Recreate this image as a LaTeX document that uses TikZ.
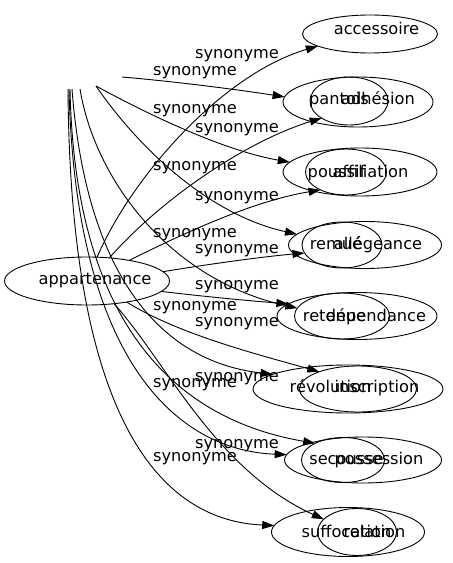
\documentclass[tikz,border=0pt]{standalone}
\usepackage{fontspec}
\setmainfont{DejaVu Sans}
\usetikzlibrary{shapes.geometric,arrows.meta}
\begin{document}
\begin{tikzpicture}[x=1bp,y=-1bp,
  every node/.style={inner sep=0pt,outer sep=0pt},
  ell/.style={draw,ellipse,line width=0.9bp},
  word/.style={anchor=base,font=\fontsize{16.2bp}{19bp}\selectfont,text=black},
  lab/.style={anchor=base,font=\fontsize{16.2bp}{19bp}\selectfont,text=black},
  edge/.style={line width=0.9bp,-{Triangle[length=12bp,width=8bp]}}]
\useasboundingbox (0,0) rectangle (453,563);
% ellipses
\node[ell,minimum width=165bp,minimum height=48bp] (app) at (87,281) {};
\node[ell,minimum width=135bp,minimum height=38bp] (acc) at (370,34) {};
\node[ell,minimum width=150bp,minimum height=50bp] (e2o) at (358,102) {};
\node[ell,minimum width=78bp,minimum height=48bp] (e2i) at (349,101) {};
\node[ell,minimum width=154bp,minimum height=48bp] (e3o) at (360,172) {};
\node[ell,minimum width=81bp,minimum height=46bp] (e3i) at (346,172) {};
\node[ell,minimum width=153bp,minimum height=47bp] (e4o) at (365,245) {};
\node[ell,minimum width=80bp,minimum height=46bp] (e4i) at (342,245) {};
\node[ell,minimum width=160bp,minimum height=47bp] (e5o) at (357,316) {};
\node[ell,minimum width=95bp,minimum height=46bp] (e5i) at (342,316) {};
\node[ell,minimum width=190bp,minimum height=48bp] (e6o) at (348,389) {};
\node[ell,minimum width=117bp,minimum height=46bp] (e6i) at (358,389) {};
\node[ell,minimum width=157bp,minimum height=46bp] (e7o) at (363,460) {};
\node[ell,minimum width=83bp,minimum height=45bp] (e7i) at (343,460) {};
\node[ell,minimum width=153bp,minimum height=49bp] (e8o) at (348,532) {};
\node[ell,minimum width=79bp,minimum height=47bp] (e8i) at (357,532) {};
% words
\node[word] (tapp) at (95,284) {appartenance};
\node[word] (tacc) at (376.5,35) {accessoire};
\node[word] (t2a) at (339,105) {pantois};
\node[word] (t2b) at (378,105) {adhésion};
\node[word] (t3a) at (336.5,177) {poussif};
\node[word] (t3b) at (370.5,177) {affiliation};
\node[word] (t4a) at (336,249) {remué};
\node[word] (t4b) at (378,249) {allégeance};
\node[word] (t5a) at (334.5,321) {retenue};
\node[word] (t5b) at (376,321) {dépendance};
\node[word] (t6a) at (330.5,392) {révolution};
\node[word] (t6b) at (377,392) {inscription};
\node[word] (t7a) at (346.5,464) {secousse};
\node[word] (t7b) at (379,464) {possession};
\node[word] (t8a) at (346.5,537) {suffocation};
\node[word] (t8b) at (374.5,537) {relation};
% free starts
\coordinate (s1) at (122,77);
\coordinate (s2) at (96,86);
\coordinate (s3) at (80,89);
\coordinate (s4) at (72,89);
\coordinate (s5) at (70,89);
\coordinate (s6) at (69,89);
\coordinate (s7) at (68,89);
% edges
\draw[edge] (app.67) .. controls (130,180) and (220,75) .. (acc.193);
\draw[edge] (s1) .. controls (180,82) and (240,90) .. (e2o.176);
\draw[edge] (app.46) .. controls (165,195) and (250,140) .. (e2i.212);
\draw[edge] (s2) .. controls (140,110) and (220,150) .. (e3o.172);
\draw[edge] (app.26) .. controls (200,225) and (260,200) .. (e3i.215);
\draw[edge] (s2) .. controls (140,150) and (210,215) .. (e4o.171);
\draw[edge] (app.7) .. controls (210,264) and (260,257) .. (e4i.192);
\draw[edge] (app.-8) .. controls (200,296) and (240,300) .. (e5o.170);
\draw[edge] (s3) .. controls (95,180) and (170,280) .. (e5i.170);
\draw[edge] (s4) .. controls (85,260) and (150,360) .. (e6o.169);
\draw[edge] (app.-28) .. controls (180,335) and (260,355) .. (e6i.156);
\draw[edge] (s6) .. controls (75,350) and (170,450) .. (e7o.176);
\draw[edge] (s5) .. controls (75,330) and (180,420) .. (e7i.149);
\draw[edge] (s7) .. controls (70,400) and (150,520) .. (e8o.175);
\draw[edge] (app.-40) .. controls (165,360) and (215,470) .. (e8i.159);
% labels
\node[lab] (l1) at (237,59) {synonyme};
\node[lab] (l2) at (195,76) {synonyme};
\node[lab] (l3) at (195,114) {synonyme};
\node[lab] (l4) at (237,133) {synonyme};
\node[lab] (l5) at (195,170) {synonyme};
\node[lab] (l6) at (237,200) {synonyme};
\node[lab] (l7) at (195,237) {synonyme};
\node[lab] (l8) at (237,253) {synonyme};
\node[lab] (l9) at (237,289) {synonyme};
\node[lab] (l10) at (195,310) {synonyme};
\node[lab] (l11) at (237,326) {synonyme};
\node[lab] (l12) at (237,381) {synonyme};
\node[lab] (l13) at (195,387) {synonyme};
\node[lab] (l14) at (237,448) {synonyme};
\node[lab] (l15) at (195,461) {synonyme};
\end{tikzpicture}
\end{document}
